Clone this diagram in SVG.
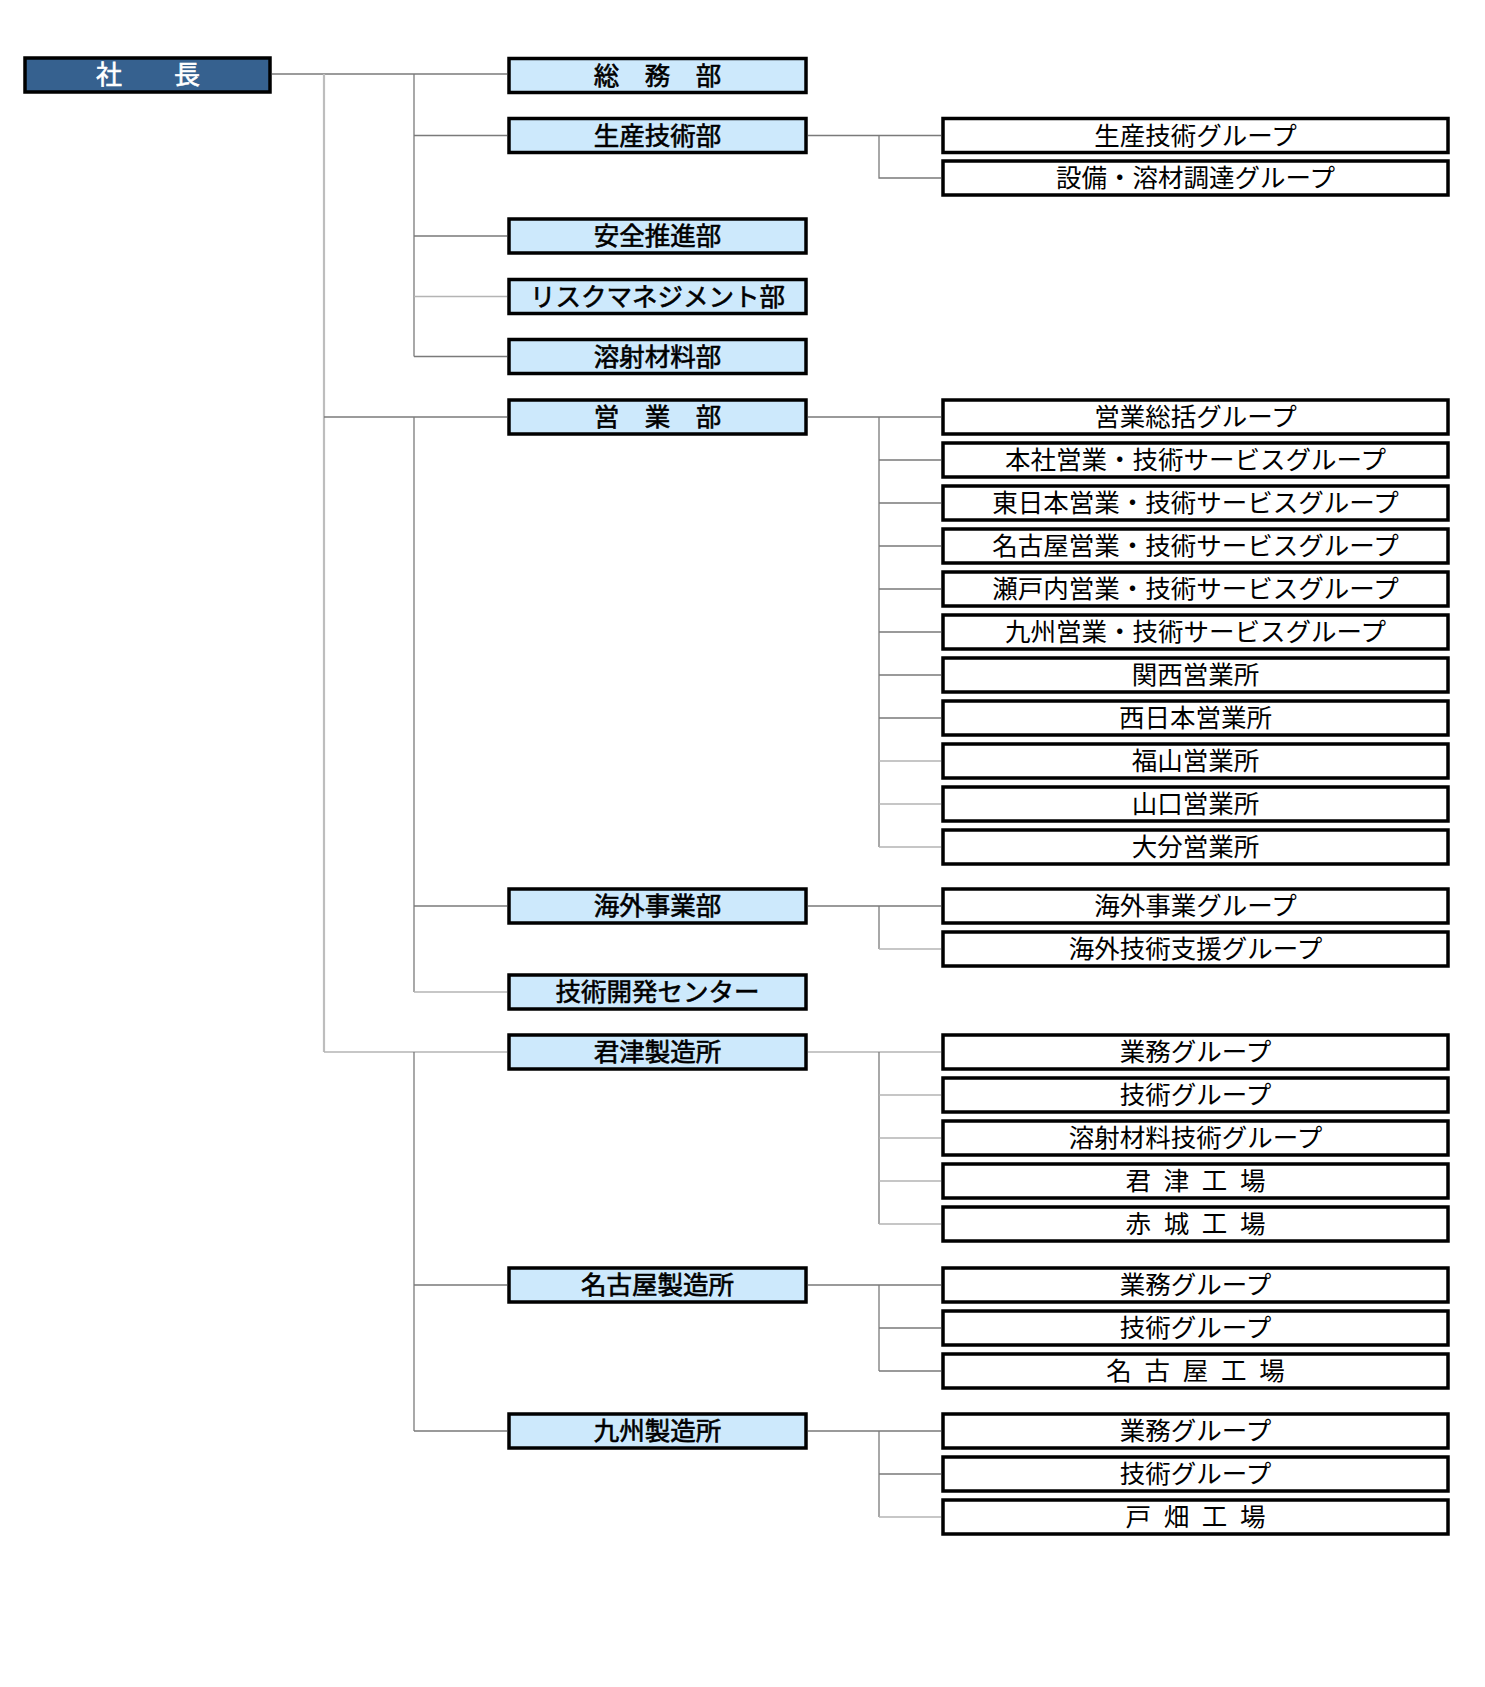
<svg xmlns="http://www.w3.org/2000/svg" width="1485" height="1687" viewBox="0 0 1485 1687">
<style>
text{font-family:"Noto Sans CJK JP","Noto Sans CJK SC",sans-serif;text-anchor:middle;dominant-baseline:central;transform:translateY(-2.5px);}
.top rect{fill:#36618f;stroke:#000;stroke-width:3.5;}
.top text{fill:#fff;stroke:#fff;stroke-width:0.6;font-size:26px;}
.dept rect{fill:#cde9fc;stroke:#000;stroke-width:3.5;}
.dept text{fill:#000;stroke:#000;stroke-width:0.6;font-size:25.5px;}
.grp rect{fill:#fff;stroke:#000;stroke-width:3.5;}
.grp text{fill:#000;font-size:25.5px;}
.sp{word-spacing:7px;}
.ln{stroke:#7a7a7a;stroke-width:1.3;fill:none;}
.lt{stroke:#b4b4b4;stroke-width:1.6;fill:none;}
.tr{stroke:#bdbdbd;stroke-width:2.2;fill:none;}
</style>
<rect width="1485" height="1687" fill="#fff"/>
<g id="connectors">
<path class="ln" d="M272 74H507"/>
<path class="tr" d="M324 74V1052"/>
<path class="ln" d="M414 74V356.5"/>
<path class="ln" d="M414 135.5H507M414 236H507M414 356.5H507"/>
<path class="lt" d="M414 296.5H507"/>
<path class="ln" d="M324 417H507"/>
<path class="ln" d="M414 417V992"/>
<path class="ln" d="M414 906H507"/>
<path class="lt" d="M414 992H507"/>
<path class="lt" d="M324 1052H507"/>
<path class="ln" d="M414 1052V1431"/>
<path class="ln" d="M414 1285H507M414 1431H507"/>
<path class="ln" d="M808 135.5H941M879 135.5V178H941"/>
<path class="ln" d="M808 417H941M879 417V847"/>
<path class="ln" d="M879 460H941M879 503H941M879 546H941M879 589H941M879 632H941M879 675H941M879 718H941"/>
<path class="lt" d="M879 761H941M879 804H941M879 847H941"/>
<path class="ln" d="M808 906H941M879 906V949"/>
<path class="lt" d="M879 949H941"/>
<path class="lt" d="M808 1052H941"/>
<path class="ln" d="M879 1052V1224"/>
<path class="lt" d="M879 1095H941M879 1138H941M879 1181H941M879 1224H941"/>
<path class="ln" d="M808 1285H941M879 1285V1371M879 1328H941M879 1371H941"/>
<path class="ln" d="M808 1431H941M879 1431V1517M879 1474H941"/>
<path class="lt" d="M879 1517H941"/>
</g>
<g id="president" class="top"><rect x="25" y="58" width="245" height="34"/><text x="148" y="75">社　　長</text></g>
<g id="d-soumu" class="dept"><rect x="509" y="58.5" width="297" height="34"/><text x="657.5" y="75.5">総　務　部</text></g>
<g id="d-seisan" class="dept"><rect x="509" y="118.5" width="297" height="34"/><text x="657.5" y="135.5">生産技術部</text></g>
<g id="d-anzen" class="dept"><rect x="509" y="219" width="297" height="34"/><text x="657.5" y="236">安全推進部</text></g>
<g id="d-risk" class="dept"><rect x="509" y="279.5" width="297" height="34"/><text x="657.5" y="296.5">リスクマネジメント部</text></g>
<g id="d-youshazai" class="dept"><rect x="509" y="339.5" width="297" height="34"/><text x="657.5" y="356.5">溶射材料部</text></g>
<g id="d-eigyo" class="dept"><rect x="509" y="400" width="297" height="34"/><text x="657.5" y="417">営　業　部</text></g>
<g id="d-kaigai" class="dept"><rect x="509" y="889" width="297" height="34"/><text x="657.5" y="906">海外事業部</text></g>
<g id="d-gikai" class="dept"><rect x="509" y="975" width="297" height="34"/><text x="657.5" y="992">技術開発センター</text></g>
<g id="d-kimitsu" class="dept"><rect x="509" y="1035" width="297" height="34"/><text x="657.5" y="1052">君津製造所</text></g>
<g id="d-nagoya" class="dept"><rect x="509" y="1268" width="297" height="34"/><text x="657.5" y="1285">名古屋製造所</text></g>
<g id="d-kyushu" class="dept"><rect x="509" y="1414" width="297" height="34"/><text x="657.5" y="1431">九州製造所</text></g>
<g id="g-seisan" class="grp"><rect x="943" y="118.5" width="505" height="34"/><text x="1195.5" y="135.5">生産技術グループ</text></g>
<g id="g-setsubi" class="grp"><rect x="943" y="161" width="505" height="34"/><text x="1195.5" y="178">設備・溶材調達グループ</text></g>
<g id="g-eigyosoukatsu" class="grp"><rect x="943" y="400" width="505" height="34"/><text x="1195.5" y="417">営業総括グループ</text></g>
<g id="g-honsha" class="grp"><rect x="943" y="443" width="505" height="34"/><text x="1195.5" y="460">本社営業・技術サービスグループ</text></g>
<g id="g-higashinihon" class="grp"><rect x="943" y="486" width="505" height="34"/><text x="1195.5" y="503">東日本営業・技術サービスグループ</text></g>
<g id="g-nagoyaeigyo" class="grp"><rect x="943" y="529" width="505" height="34"/><text x="1195.5" y="546">名古屋営業・技術サービスグループ</text></g>
<g id="g-setouchi" class="grp"><rect x="943" y="572" width="505" height="34"/><text x="1195.5" y="589">瀬戸内営業・技術サービスグループ</text></g>
<g id="g-kyushueigyo" class="grp"><rect x="943" y="615" width="505" height="34"/><text x="1195.5" y="632">九州営業・技術サービスグループ</text></g>
<g id="g-kansai" class="grp"><rect x="943" y="658" width="505" height="34"/><text x="1195.5" y="675">関西営業所</text></g>
<g id="g-nishinihon" class="grp"><rect x="943" y="701" width="505" height="34"/><text x="1195.5" y="718">西日本営業所</text></g>
<g id="g-fukuyama" class="grp"><rect x="943" y="744" width="505" height="34"/><text x="1195.5" y="761">福山営業所</text></g>
<g id="g-yamaguchi" class="grp"><rect x="943" y="787" width="505" height="34"/><text x="1195.5" y="804">山口営業所</text></g>
<g id="g-oita" class="grp"><rect x="943" y="830" width="505" height="34"/><text x="1195.5" y="847">大分営業所</text></g>
<g id="g-kaigaijigyo" class="grp"><rect x="943" y="889" width="505" height="34"/><text x="1195.5" y="906">海外事業グループ</text></g>
<g id="g-kaigaigijutsu" class="grp"><rect x="943" y="932" width="505" height="34"/><text x="1195.5" y="949">海外技術支援グループ</text></g>
<g id="g-k-gyomu" class="grp"><rect x="943" y="1035" width="505" height="34"/><text x="1195.5" y="1052">業務グループ</text></g>
<g id="g-k-gijutsu" class="grp"><rect x="943" y="1078" width="505" height="34"/><text x="1195.5" y="1095">技術グループ</text></g>
<g id="g-k-yousha" class="grp"><rect x="943" y="1121" width="505" height="34"/><text x="1195.5" y="1138">溶射材料技術グループ</text></g>
<g id="g-k-kimitsu" class="grp"><rect x="943" y="1164" width="505" height="34"/><text class="sp" x="1195.5" y="1181">君 津 工 場</text></g>
<g id="g-k-akagi" class="grp"><rect x="943" y="1207" width="505" height="34"/><text class="sp" x="1195.5" y="1224">赤 城 工 場</text></g>
<g id="g-n-gyomu" class="grp"><rect x="943" y="1268" width="505" height="34"/><text x="1195.5" y="1285">業務グループ</text></g>
<g id="g-n-gijutsu" class="grp"><rect x="943" y="1311" width="505" height="34"/><text x="1195.5" y="1328">技術グループ</text></g>
<g id="g-n-nagoya" class="grp"><rect x="943" y="1354" width="505" height="34"/><text class="sp" x="1195.5" y="1371">名 古 屋 工 場</text></g>
<g id="g-q-gyomu" class="grp"><rect x="943" y="1414" width="505" height="34"/><text x="1195.5" y="1431">業務グループ</text></g>
<g id="g-q-gijutsu" class="grp"><rect x="943" y="1457" width="505" height="34"/><text x="1195.5" y="1474">技術グループ</text></g>
<g id="g-q-tobata" class="grp"><rect x="943" y="1500" width="505" height="34"/><text class="sp" x="1195.5" y="1517">戸 畑 工 場</text></g>
</svg>
